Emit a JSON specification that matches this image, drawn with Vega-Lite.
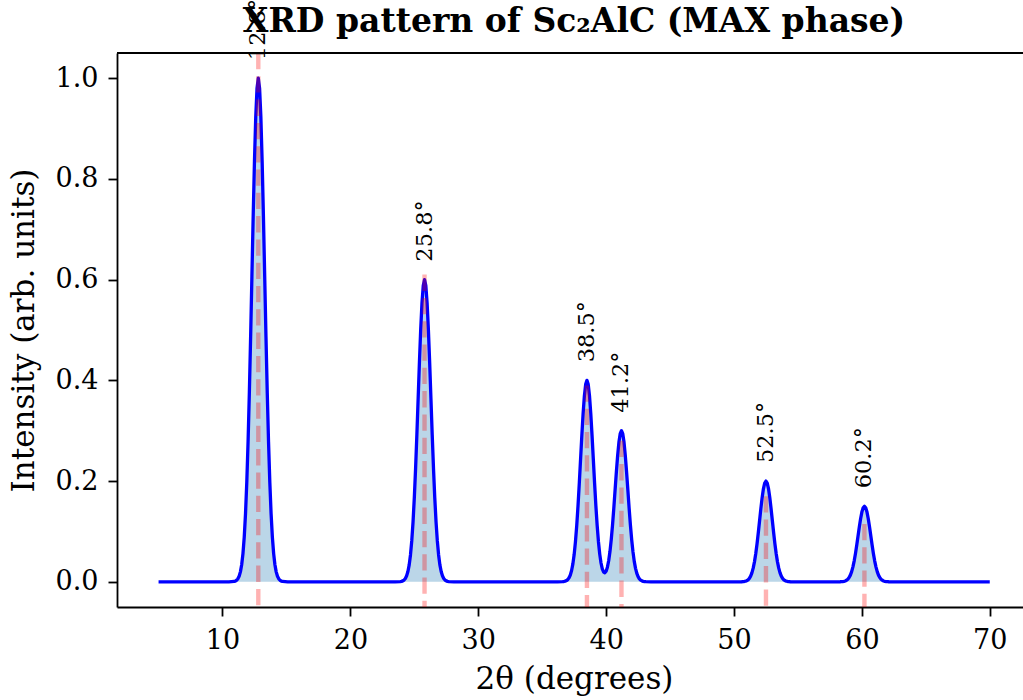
{
  "$schema": "https://vega.github.io/schema/vega-lite/v6.json",
  "width": 906,
  "height": 554,
  "autosize": {"type": "none"},
  "padding": {"left": 117, "top": 53, "right": 0, "bottom": 93},
  "background": "white",
  "config": {
    "view": {"stroke": null},
    "axis": {
      "grid": false,
      "domainColor": "black",
      "domainWidth": 1.8,
      "tickColor": "black",
      "tickWidth": 1.8,
      "tickSize": 9,
      "labelColor": "black",
      "labelFont": "DejaVu Serif",
      "labelFontSize": 27,
      "titleColor": "black",
      "titleFont": "DejaVu Serif",
      "titleFontWeight": "normal",
      "titleFontSize": 31
    }
  },
  "title": {
    "text": "XRD pattern of Sc₂AlC (MAX phase)",
    "font": "DejaVu Serif",
    "fontSize": 33,
    "fontWeight": "bold",
    "color": "black",
    "anchor": "middle",
    "frame": "group",
    "baseline": "alphabetic",
    "offset": 18,
    "dx": 4,
    "dy": 84
  },
  "datasets": {
    "curve": [
      {"x": 5, "y": 0},
      {"x": 10.5, "y": 0}, {"x": 10.9, "y": 0.0007}, {"x": 11.0, "y": 0.0015}, {"x": 11.1, "y": 0.0031}, {"x": 11.2, "y": 0.0060}, {"x": 11.3, "y": 0.0111}, {"x": 11.4, "y": 0.0198}, {"x": 11.5, "y": 0.0340}, {"x": 11.6, "y": 0.0561}, {"x": 11.7, "y": 0.0889}, {"x": 11.8, "y": 0.1353}, {"x": 11.9, "y": 0.1979}, {"x": 12.0, "y": 0.2780}, {"x": 12.1, "y": 0.3753}, {"x": 12.2, "y": 0.4868}, {"x": 12.3, "y": 0.6065}, {"x": 12.4, "y": 0.7261}, {"x": 12.5, "y": 0.8353}, {"x": 12.6, "y": 0.9231}, {"x": 12.7, "y": 0.9802}, {"x": 12.8, "y": 1.0}, {"x": 12.9, "y": 0.9802}, {"x": 13.0, "y": 0.9231}, {"x": 13.1, "y": 0.8353}, {"x": 13.2, "y": 0.7261}, {"x": 13.3, "y": 0.6065}, {"x": 13.4, "y": 0.4868}, {"x": 13.5, "y": 0.3753}, {"x": 13.6, "y": 0.2780}, {"x": 13.7, "y": 0.1979}, {"x": 13.8, "y": 0.1353}, {"x": 13.9, "y": 0.0889}, {"x": 14.0, "y": 0.0561}, {"x": 14.1, "y": 0.0340}, {"x": 14.2, "y": 0.0198}, {"x": 14.3, "y": 0.0111}, {"x": 14.4, "y": 0.0060}, {"x": 14.5, "y": 0.0031}, {"x": 14.6, "y": 0.0015}, {"x": 14.7, "y": 0.0007}, {"x": 15.1, "y": 0},
      {"x": 23.5, "y": 0}, {"x": 23.9, "y": 0.0004}, {"x": 24.0, "y": 0.0009}, {"x": 24.1, "y": 0.0019}, {"x": 24.2, "y": 0.0036}, {"x": 24.3, "y": 0.0067}, {"x": 24.4, "y": 0.0119}, {"x": 24.5, "y": 0.0204}, {"x": 24.6, "y": 0.0337}, {"x": 24.7, "y": 0.0533}, {"x": 24.8, "y": 0.0812}, {"x": 24.9, "y": 0.1187}, {"x": 25.0, "y": 0.1668}, {"x": 25.1, "y": 0.2252}, {"x": 25.2, "y": 0.2921}, {"x": 25.3, "y": 0.3639}, {"x": 25.4, "y": 0.4357}, {"x": 25.5, "y": 0.5012}, {"x": 25.6, "y": 0.5539}, {"x": 25.7, "y": 0.5881}, {"x": 25.8, "y": 0.6}, {"x": 25.9, "y": 0.5881}, {"x": 26.0, "y": 0.5539}, {"x": 26.1, "y": 0.5012}, {"x": 26.2, "y": 0.4357}, {"x": 26.3, "y": 0.3639}, {"x": 26.4, "y": 0.2921}, {"x": 26.5, "y": 0.2252}, {"x": 26.6, "y": 0.1668}, {"x": 26.7, "y": 0.1187}, {"x": 26.8, "y": 0.0812}, {"x": 26.9, "y": 0.0533}, {"x": 27.0, "y": 0.0337}, {"x": 27.1, "y": 0.0204}, {"x": 27.2, "y": 0.0119}, {"x": 27.3, "y": 0.0067}, {"x": 27.4, "y": 0.0036}, {"x": 27.5, "y": 0.0019}, {"x": 27.6, "y": 0.0009}, {"x": 27.7, "y": 0.0004}, {"x": 28.1, "y": 0},
      {"x": 36.2, "y": 0}, {"x": 36.6, "y": 0.0003}, {"x": 36.7, "y": 0.0006}, {"x": 36.8, "y": 0.0012}, {"x": 36.9, "y": 0.0024}, {"x": 37.0, "y": 0.0044}, {"x": 37.1, "y": 0.0079}, {"x": 37.2, "y": 0.0136}, {"x": 37.3, "y": 0.0224}, {"x": 37.4, "y": 0.0356}, {"x": 37.5, "y": 0.0541}, {"x": 37.6, "y": 0.0792}, {"x": 37.7, "y": 0.1112}, {"x": 37.8, "y": 0.1501}, {"x": 37.9, "y": 0.1947}, {"x": 38.0, "y": 0.2426}, {"x": 38.1, "y": 0.2904}, {"x": 38.2, "y": 0.3341}, {"x": 38.3, "y": 0.3692}, {"x": 38.4, "y": 0.3921}, {"x": 38.5, "y": 0.4}, {"x": 38.6, "y": 0.3921}, {"x": 38.7, "y": 0.3692}, {"x": 38.8, "y": 0.3341}, {"x": 38.9, "y": 0.2904}, {"x": 39.0, "y": 0.2426}, {"x": 39.1, "y": 0.1948}, {"x": 39.2, "y": 0.1502}, {"x": 39.3, "y": 0.1114}, {"x": 39.4, "y": 0.0796}, {"x": 39.5, "y": 0.0550}, {"x": 39.6, "y": 0.0374}, {"x": 39.7, "y": 0.0257}, {"x": 39.8, "y": 0.0195}, {"x": 39.9, "y": 0.0181}, {"x": 40.0, "y": 0.0212}, {"x": 40.1, "y": 0.0291}, {"x": 40.2, "y": 0.0418}, {"x": 40.3, "y": 0.0600}, {"x": 40.4, "y": 0.0837}, {"x": 40.5, "y": 0.1127}, {"x": 40.6, "y": 0.1460}, {"x": 40.7, "y": 0.1820}, {"x": 40.8, "y": 0.2178}, {"x": 40.9, "y": 0.2506}, {"x": 41.0, "y": 0.2769}, {"x": 41.1, "y": 0.2941}, {"x": 41.2, "y": 0.3}, {"x": 41.3, "y": 0.2941}, {"x": 41.4, "y": 0.2769}, {"x": 41.5, "y": 0.2506}, {"x": 41.6, "y": 0.2178}, {"x": 41.7, "y": 0.1820}, {"x": 41.8, "y": 0.1460}, {"x": 41.9, "y": 0.1126}, {"x": 42.0, "y": 0.0834}, {"x": 42.1, "y": 0.0594}, {"x": 42.2, "y": 0.0406}, {"x": 42.3, "y": 0.0267}, {"x": 42.4, "y": 0.0168}, {"x": 42.5, "y": 0.0102}, {"x": 42.6, "y": 0.0059}, {"x": 42.7, "y": 0.0033}, {"x": 42.8, "y": 0.0018}, {"x": 42.9, "y": 0.0009}, {"x": 43.0, "y": 0.0005}, {"x": 43.1, "y": 0.0002}, {"x": 43.5, "y": 0},
      {"x": 50.2, "y": 0}, {"x": 50.6, "y": 0.0001}, {"x": 50.7, "y": 0.0003}, {"x": 50.8, "y": 0.0006}, {"x": 50.9, "y": 0.0012}, {"x": 51.0, "y": 0.0022}, {"x": 51.1, "y": 0.0040}, {"x": 51.2, "y": 0.0068}, {"x": 51.3, "y": 0.0112}, {"x": 51.4, "y": 0.0178}, {"x": 51.5, "y": 0.0271}, {"x": 51.6, "y": 0.0396}, {"x": 51.7, "y": 0.0556}, {"x": 51.8, "y": 0.0751}, {"x": 51.9, "y": 0.0974}, {"x": 52.0, "y": 0.1213}, {"x": 52.1, "y": 0.1452}, {"x": 52.2, "y": 0.1671}, {"x": 52.3, "y": 0.1846}, {"x": 52.4, "y": 0.1960}, {"x": 52.5, "y": 0.2}, {"x": 52.6, "y": 0.1960}, {"x": 52.7, "y": 0.1846}, {"x": 52.8, "y": 0.1671}, {"x": 52.9, "y": 0.1452}, {"x": 53.0, "y": 0.1213}, {"x": 53.1, "y": 0.0974}, {"x": 53.2, "y": 0.0751}, {"x": 53.3, "y": 0.0556}, {"x": 53.4, "y": 0.0396}, {"x": 53.5, "y": 0.0271}, {"x": 53.6, "y": 0.0178}, {"x": 53.7, "y": 0.0112}, {"x": 53.8, "y": 0.0068}, {"x": 53.9, "y": 0.0040}, {"x": 54.0, "y": 0.0022}, {"x": 54.1, "y": 0.0012}, {"x": 54.2, "y": 0.0006}, {"x": 54.3, "y": 0.0003}, {"x": 54.4, "y": 0.0001}, {"x": 54.8, "y": 0},
      {"x": 57.9, "y": 0}, {"x": 58.3, "y": 0.0001}, {"x": 58.4, "y": 0.0002}, {"x": 58.5, "y": 0.0005}, {"x": 58.6, "y": 0.0009}, {"x": 58.7, "y": 0.0017}, {"x": 58.8, "y": 0.0030}, {"x": 58.9, "y": 0.0051}, {"x": 59.0, "y": 0.0084}, {"x": 59.1, "y": 0.0133}, {"x": 59.2, "y": 0.0203}, {"x": 59.3, "y": 0.0297}, {"x": 59.4, "y": 0.0417}, {"x": 59.5, "y": 0.0563}, {"x": 59.6, "y": 0.0730}, {"x": 59.7, "y": 0.0910}, {"x": 59.8, "y": 0.1089}, {"x": 59.9, "y": 0.1253}, {"x": 60.0, "y": 0.1385}, {"x": 60.1, "y": 0.1470}, {"x": 60.2, "y": 0.15}, {"x": 60.3, "y": 0.1470}, {"x": 60.4, "y": 0.1385}, {"x": 60.5, "y": 0.1253}, {"x": 60.6, "y": 0.1089}, {"x": 60.7, "y": 0.0910}, {"x": 60.8, "y": 0.0730}, {"x": 60.9, "y": 0.0563}, {"x": 61.0, "y": 0.0417}, {"x": 61.1, "y": 0.0297}, {"x": 61.2, "y": 0.0203}, {"x": 61.3, "y": 0.0133}, {"x": 61.4, "y": 0.0084}, {"x": 61.5, "y": 0.0051}, {"x": 61.6, "y": 0.0030}, {"x": 61.7, "y": 0.0017}, {"x": 61.8, "y": 0.0009}, {"x": 61.9, "y": 0.0005}, {"x": 62.0, "y": 0.0002}, {"x": 62.1, "y": 0.0001}, {"x": 62.5, "y": 0},
      {"x": 70, "y": 0}
    ],
    "peaks": [
      {"x": 12.8, "y": 1.0, "label": "12.8°"},
      {"x": 25.8, "y": 0.6, "label": "25.8°"},
      {"x": 38.5, "y": 0.4, "label": "38.5°"},
      {"x": 41.2, "y": 0.3, "label": "41.2°"},
      {"x": 52.5, "y": 0.2, "label": "52.5°"},
      {"x": 60.2, "y": 0.15, "label": "60.2°"}
    ]
  },
  "resolve": {"scale": {"y": "independent"}, "axis": {"y": "independent"}},
  "layer": [
    {
      "data": {"name": "curve"},
      "mark": {"type": "area", "color": "#1f77b4", "fillOpacity": 0.3, "interpolate": "linear"},
      "encoding": {
        "x": {
          "field": "x", "type": "quantitative",
          "scale": {"domain": [1.75, 72.6], "nice": false, "zero": false},
          "axis": {
            "title": "2θ (degrees)",
            "values": [10, 20, 30, 40, 50, 60, 70],
            "labelBaseline": "alphabetic",
            "labelPadding": 32,
            "titleX": 457,
            "titleY": 81,
            "titleBaseline": "alphabetic",
            "titleAnchor": "start",
            "titleAlign": "center"
          }
        },
        "y": {
          "field": "y", "type": "quantitative",
          "scale": {"domain": [-0.05, 1.05], "nice": false, "zero": false},
          "axis": {
            "title": "Intensity (arb. units)",
            "values": [0, 0.2, 0.4, 0.6, 0.8, 1.0],
            "format": ".1f",
            "labelPadding": 10,
            "titleX": -84,
            "titleY": 277,
            "titleBaseline": "alphabetic",
            "titleAngle": 270,
            "titleAlign": "center",
            "titleAnchor": "start"
          }
        },
        "y2": {"datum": 0}
      }
    },
    {
      "data": {"name": "curve"},
      "mark": {"type": "line", "color": "blue", "strokeWidth": 3.3, "strokeJoin": "round"},
      "encoding": {
        "x": {"field": "x", "type": "quantitative"},
        "y": {"field": "y", "type": "quantitative", "scale": {"domain": [-0.05, 1.05], "nice": false, "zero": false}, "axis": null}
      }
    },
    {
      "data": {"name": "peaks"},
      "mark": {"type": "rule", "color": "red", "strokeOpacity": 0.3, "strokeWidth": 4.4, "strokeDash": [16.3, 7]},
      "encoding": {
        "x": {"field": "x", "type": "quantitative"},
        "y": {"field": "y", "type": "quantitative", "scale": {"domain": [0, 1], "nice": false, "zero": false}, "axis": null},
        "y2": {"datum": 0}
      }
    },
    {
      "data": {"name": "peaks"},
      "mark": {"type": "text", "angle": 270, "align": "left", "baseline": "middle", "dx": 18, "font": "DejaVu Serif", "fontSize": 22.5, "color": "black"},
      "encoding": {
        "x": {"field": "x", "type": "quantitative"},
        "y": {"field": "y", "type": "quantitative", "scale": {"domain": [-0.05, 1.05], "nice": false, "zero": false}, "axis": null},
        "text": {"field": "label"}
      }
    },
    {
      "data": {"name": "peaks"},
      "mark": {"type": "rule", "color": "black", "strokeWidth": 1.8},
      "encoding": {
        "y": {"datum": 1, "type": "quantitative", "scale": {"domain": [0, 1], "nice": false, "zero": false}, "axis": null}
      }
    }
  ]
}
